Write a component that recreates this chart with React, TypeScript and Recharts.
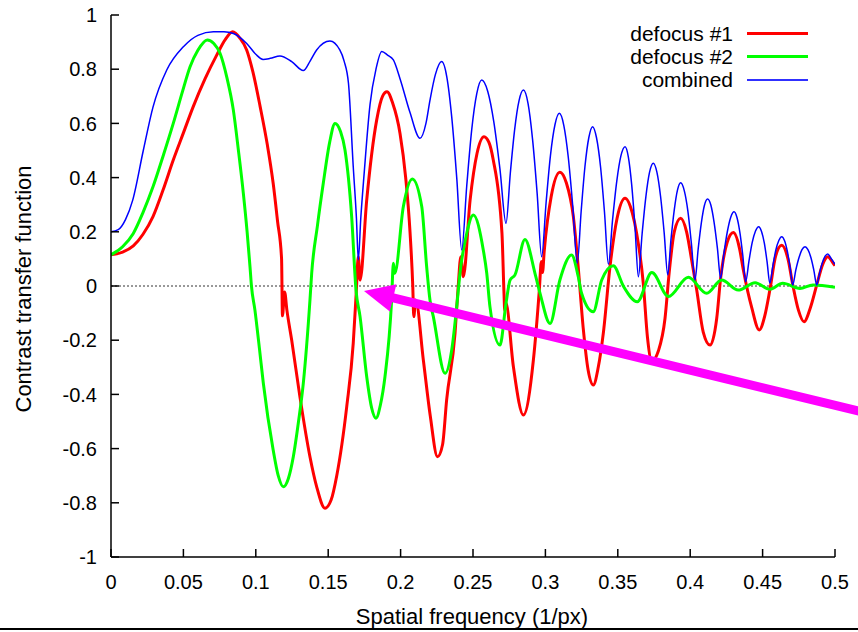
import React from 'react';
import { LineChart, Line, XAxis, YAxis, ReferenceLine, Legend } from 'recharts';

const FONT = '"Liberation Sans", Arial, Helvetica, sans-serif';

const xTicks = [0, 0.05, 0.1, 0.15, 0.2, 0.25, 0.3, 0.35, 0.4, 0.45, 0.5];
const yTicks = [-1, -0.8, -0.6, -0.4, -0.2, 0, 0.2, 0.4, 0.6, 0.8, 1];

const seriesNames = ['defocus #1', 'defocus #2', 'combined'];

// [spatial frequency, ctf]
const defocus1: [number, number][] = [
  [0, 0.115], [0.008, 0.125], [0.0154, 0.148], [0.022, 0.19], [0.029, 0.256],
  [0.036, 0.355], [0.043, 0.465], [0.05, 0.565], [0.0568, 0.662], [0.065, 0.765],
  [0.073, 0.852], [0.079, 0.91], [0.084, 0.938], [0.089, 0.915], [0.0937, 0.871],
  [0.098, 0.79], [0.103, 0.662], [0.108, 0.52], [0.112, 0.379], [0.115, 0.24],
  [0.1178, 0.1], [0.1184, -0.11], [0.1199, -0.022], [0.1215, -0.09], [0.1248, -0.2],
  [0.1305, -0.41], [0.1374, -0.63], [0.142, -0.74], [0.1478, -0.82], [0.152, -0.79],
  [0.1559, -0.7], [0.1628, -0.445], [0.1673, -0.211], [0.1693, -0.03], [0.1708, 0.108],
  [0.172, 0.022], [0.1766, 0.317], [0.1835, 0.613], [0.1875, 0.7], [0.1906, 0.717],
  [0.1945, 0.675], [0.1996, 0.563], [0.2035, 0.4], [0.2065, 0.2], [0.2084, 0.0],
  [0.2091, -0.113], [0.2104, -0.052], [0.2157, -0.273], [0.2205, -0.48], [0.2255, -0.63],
  [0.229, -0.585], [0.2318, -0.42], [0.2376, -0.174], [0.2398, 0.0], [0.2416, 0.108],
  [0.2433, 0.034], [0.248, 0.317], [0.2528, 0.49], [0.2576, 0.551], [0.261, 0.53],
  [0.264, 0.465], [0.27, 0.195], [0.2714, -0.026], [0.2719, -0.09], [0.2726, -0.06],
  [0.2779, -0.298], [0.2848, -0.476], [0.2917, -0.273], [0.2958, -0.015], [0.2972, 0.09],
  [0.298, 0.05], [0.2992, 0.13], [0.304, 0.33], [0.31, 0.42], [0.3145, 0.38],
  [0.3193, 0.256], [0.3225, 0.08], [0.3262, -0.16], [0.3295, -0.31], [0.3331, -0.365],
  [0.3365, -0.3], [0.34, -0.174], [0.3446, 0.071], [0.3495, 0.25], [0.355, 0.324],
  [0.36, 0.27], [0.363, 0.195], [0.3676, 0.01], [0.3705, -0.19], [0.3735, -0.277],
  [0.378, -0.24], [0.3826, -0.12], [0.3855, 0.05], [0.389, 0.2], [0.3934, 0.25],
  [0.3975, 0.2], [0.401, 0.096], [0.4045, -0.015], [0.409, -0.17], [0.4137, -0.218],
  [0.4183, -0.12], [0.421, 0.028], [0.4255, 0.16], [0.4298, 0.197], [0.434, 0.14],
  [0.4367, 0.059], [0.4425, -0.08], [0.4477, -0.162], [0.4515, -0.11], [0.455, -0.015],
  [0.459, 0.11], [0.4632, 0.15], [0.4675, 0.1], [0.471, 0.0], [0.4748, -0.09],
  [0.4786, -0.132], [0.483, -0.08], [0.4874, 0.004], [0.4915, 0.08], [0.495, 0.108],
  [0.4988, 0.084], [0.5, 0.075],
];

const defocus2: [number, number][] = [
  [0, 0.115], [0.008, 0.145], [0.0154, 0.194], [0.022, 0.27], [0.029, 0.366],
  [0.036, 0.48], [0.043, 0.6], [0.0495, 0.72], [0.0546, 0.809], [0.06, 0.87],
  [0.0665, 0.908], [0.071, 0.895], [0.0753, 0.859], [0.08, 0.77], [0.0845, 0.649],
  [0.088, 0.5], [0.0914, 0.342], [0.094, 0.2], [0.096, 0.071], [0.097, 0.0],
  [0.0994, -0.089], [0.1025, -0.23], [0.1052, -0.359], [0.112, -0.605], [0.1155, -0.7],
  [0.119, -0.741], [0.1225, -0.71], [0.1259, -0.63], [0.1295, -0.5], [0.1328, -0.359],
  [0.1374, -0.052], [0.1386, 0.047], [0.1425, 0.22], [0.1466, 0.379], [0.151, 0.53],
  [0.1547, 0.6], [0.1585, 0.57], [0.1616, 0.502], [0.1662, 0.256], [0.1692, -0.015],
  [0.172, -0.113], [0.1766, -0.335], [0.18, -0.45], [0.183, -0.488], [0.186, -0.44],
  [0.1892, -0.335], [0.1938, -0.052], [0.195, 0.084], [0.196, 0.047], [0.2019, 0.293],
  [0.2081, 0.395], [0.2146, 0.293], [0.218, 0.071], [0.2203, -0.052], [0.2226, -0.113],
  [0.2307, -0.322], [0.2353, -0.236], [0.2392, -0.052], [0.241, 0.047], [0.2455, 0.19],
  [0.2502, 0.262], [0.2571, 0.133], [0.2595, 0.047], [0.2617, -0.076], [0.2686, -0.218],
  [0.2728, -0.064], [0.2756, 0.022], [0.279, 0.041], [0.2859, 0.172], [0.2928, 0.047],
  [0.2963, -0.027], [0.3032, -0.138], [0.31, 0.022], [0.3181, 0.114], [0.3227, 0.034],
  [0.325, -0.027], [0.333, -0.095], [0.3389, 0.022], [0.3469, 0.075], [0.3538, 0.0],
  [0.3635, -0.058], [0.3735, 0.05], [0.385, -0.039], [0.3987, 0.032], [0.4114, -0.027],
  [0.4217, 0.022], [0.4332, -0.015], [0.4448, 0.012], [0.455, -0.012], [0.4639, 0.01],
  [0.4758, -0.009], [0.4848, 0.004], [0.5, -0.005],
];

const combined: [number, number][] = [
  [0, 0.2], [0.005, 0.208], [0.01, 0.245], [0.015, 0.317], [0.0223, 0.5],
  [0.029, 0.66], [0.0385, 0.797], [0.05, 0.883], [0.06, 0.925], [0.0707, 0.938],
  [0.078, 0.938], [0.0845, 0.932], [0.0937, 0.895], [0.1, 0.855], [0.105, 0.836],
  [0.11, 0.84], [0.1167, 0.849], [0.1248, 0.828], [0.1328, 0.795], [0.1375, 0.83],
  [0.142, 0.871], [0.1512, 0.904], [0.158, 0.871], [0.161, 0.83], [0.164, 0.748],
  [0.1673, 0.44], [0.1695, 0.25], [0.1708, 0.096], [0.1725, 0.25], [0.1749, 0.42],
  [0.1789, 0.67], [0.183, 0.8], [0.187, 0.865], [0.191, 0.852], [0.195, 0.834],
  [0.1996, 0.765], [0.2065, 0.64], [0.2134, 0.545], [0.2175, 0.6], [0.2203, 0.686],
  [0.224, 0.78], [0.2284, 0.828], [0.2319, 0.772], [0.2353, 0.624], [0.2388, 0.397],
  [0.2422, 0.133], [0.2457, 0.371], [0.2491, 0.576], [0.2526, 0.71], [0.256, 0.76],
  [0.2602, 0.718], [0.2644, 0.605], [0.2686, 0.432], [0.2728, 0.231], [0.2758, 0.418],
  [0.2788, 0.579], [0.2818, 0.684], [0.2848, 0.723], [0.288, 0.674], [0.2911, 0.543],
  [0.2943, 0.342], [0.2974, 0.108], [0.3005, 0.309], [0.3035, 0.482], [0.3066, 0.595],
  [0.3096, 0.637], [0.3127, 0.593], [0.3158, 0.475], [0.3189, 0.294], [0.322, 0.084],
  [0.3247, 0.276], [0.3273, 0.44], [0.33, 0.548], [0.3326, 0.588], [0.3353, 0.547],
  [0.3381, 0.439], [0.3408, 0.273], [0.3435, 0.08], [0.3464, 0.245], [0.3493, 0.387],
  [0.3521, 0.479], [0.355, 0.514], [0.3573, 0.476], [0.3596, 0.373], [0.3619, 0.216],
  [0.3642, 0.034], [0.3668, 0.193], [0.3694, 0.33], [0.3719, 0.419], [0.3745, 0.453],
  [0.377, 0.42], [0.3795, 0.332], [0.382, 0.198], [0.3845, 0.041], [0.3867, 0.17],
  [0.389, 0.281], [0.3912, 0.354], [0.3934, 0.381], [0.3959, 0.352], [0.3984, 0.276],
  [0.4008, 0.158], [0.4033, 0.022], [0.4055, 0.136], [0.4077, 0.233], [0.4098, 0.297],
  [0.412, 0.321], [0.4143, 0.298], [0.4165, 0.235], [0.4188, 0.139], [0.421, 0.028],
  [0.4233, 0.121], [0.4257, 0.202], [0.428, 0.254], [0.4303, 0.274], [0.4323, 0.253],
  [0.4343, 0.198], [0.4363, 0.114], [0.4383, 0.016], [0.4406, 0.093], [0.4428, 0.16],
  [0.4451, 0.203], [0.4473, 0.219], [0.4492, 0.202], [0.4512, 0.158], [0.4531, 0.089],
  [0.455, 0.01], [0.4571, 0.075], [0.4591, 0.132], [0.4612, 0.168], [0.4632, 0.182],
  [0.4651, 0.168], [0.467, 0.13], [0.4689, 0.072], [0.4708, 0.004], [0.4729, 0.058],
  [0.4751, 0.104], [0.4772, 0.134], [0.4793, 0.145], [0.4813, 0.134], [0.4834, 0.104],
  [0.4854, 0.058], [0.4874, 0.004], [0.4893, 0.047], [0.4912, 0.085], [0.4931, 0.109],
  [0.495, 0.118], [0.4975, 0.1], [0.5, 0.08],
];

// annotation arrow, tail (off the right edge) -> tip
const arrowTail = { x: 0.5242, y: -0.472 };
const arrowTip = { x: 0.1747, y: -0.018 };

const toPoints = (pairs: [number, number][]) => pairs.map(([f, ctf]) => ({ f, ctf }));

const legendItems = [
  { name: seriesNames[0], color: '#ff0000', h: 3 },
  { name: seriesNames[1], color: '#00ff00', h: 3 },
  { name: seriesNames[2], color: '#3030ff', h: 2 },
];

const ArrowShape = (props: any) => {
  const { x1, y1, x2, y2 } = props;
  const dx = x2 - x1;
  const dy = y2 - y1;
  const len = Math.hypot(dx, dy);
  const ux = dx / len;
  const uy = dy / len;
  const head = 30;
  const half = 14;
  const bx = x2 - ux * head;
  const by = y2 - uy * head;
  return (
    <g>
      <line x1={x1} y1={y1} x2={bx + ux * 2} y2={by + uy * 2} stroke="#ff00ff" strokeWidth={9} />
      <polygon
        points={`${x2},${y2} ${bx - uy * half},${by + ux * half} ${bx + uy * half},${by - ux * half}`}
        fill="#ff00ff"
      />
    </g>
  );
};

const renderLegend = () => (
  <div style={{ fontFamily: FONT, fontSize: 21, color: '#000' }}>
    {legendItems.map((it) => (
      <div key={it.name} style={{ display: 'flex', alignItems: 'center', height: 23 }}>
        <span style={{ width: 133, textAlign: 'right', whiteSpace: 'nowrap' }}>{it.name}</span>
        <span style={{ width: 61, height: it.h, background: it.color, marginLeft: 14 }} />
      </div>
    ))}
  </div>
);

const axisLine = { stroke: '#000', strokeWidth: 1.5 };
const tickStyle = { fill: '#000', fontSize: 20, fontFamily: FONT };

export default function App() {
  return (
    <div style={{ position: 'absolute', left: 0, top: 0, width: 858, height: 632, background: '#fff' }}>
      <LineChart width={858} height={632} margin={{ top: 15, right: 23, bottom: 0, left: 0 }}>
        <XAxis
          dataKey="f"
          type="number"
          domain={[0, 0.5]}
          ticks={xTicks}
          allowDataOverflow
          height={75}
          tickSize={-8}
          tickMargin={26}
          axisLine={axisLine}
          tickLine={axisLine}
          tick={tickStyle}
          tickFormatter={(v: number) => String(v)}
          label={() => (
            <text x={472} y={624} textAnchor="middle" fontSize={22} fontFamily={FONT} fill="#000">
              Spatial frequency (1/px)
            </text>
          )}
        />
        <XAxis
          xAxisId="top"
          orientation="top"
          type="number"
          domain={[0, 0.5]}
          ticks={xTicks}
          allowDataOverflow
          height={0}
          tickSize={-8}
          axisLine={axisLine}
          tickLine={axisLine}
          tick={false}
        />
        <YAxis
          type="number"
          domain={[-1, 1]}
          ticks={yTicks}
          allowDataOverflow
          width={111}
          tickSize={-8}
          tickMargin={22}
          axisLine={axisLine}
          tickLine={axisLine}
          tick={tickStyle}
          tickFormatter={(v: number) => String(v)}
          label={() => (
            <text
              transform="translate(31,289) rotate(-90)"
              textAnchor="middle"
              fontSize={22}
              fontFamily={FONT}
              fill="#000"
            >
              Contrast transfer function
            </text>
          )}
        />
        <YAxis
          yAxisId="right"
          orientation="right"
          type="number"
          domain={[-1, 1]}
          ticks={yTicks}
          allowDataOverflow
          width={0}
          tickSize={-8}
          axisLine={axisLine}
          tickLine={axisLine}
          tick={false}
        />
        <ReferenceLine y={0} stroke="#333" strokeWidth={1} strokeDasharray="2 2" />
        <Line
          data={toPoints(defocus1)}
          dataKey="ctf"
          name={seriesNames[0]}
          type="monotone"
          stroke="#ff0000"
          strokeWidth={3}
          dot={false}
          isAnimationActive={false}
        />
        <Line
          data={toPoints(defocus2)}
          dataKey="ctf"
          name={seriesNames[1]}
          type="monotone"
          stroke="#00ff00"
          strokeWidth={3}
          dot={false}
          isAnimationActive={false}
        />
        <Line
          data={toPoints(combined)}
          dataKey="ctf"
          name={seriesNames[2]}
          type="monotone"
          stroke="#0000ff"
          strokeWidth={1.5}
          dot={false}
          isAnimationActive={false}
        />
        <ReferenceLine
          segment={[arrowTail, arrowTip]}
          ifOverflow="visible"
          stroke="#ff00ff"
          shape={ArrowShape}
        />
        <Legend
          layout="vertical"
          align="center"
          verticalAlign="middle"
          wrapperStyle={{ left: 600, top: 22, width: 220, height: 70 }}
          content={renderLegend}
        />
      </LineChart>
      <div style={{ position: 'absolute', left: 0, top: 628, width: 858, height: 2, background: '#000' }} />
    </div>
  );
}
